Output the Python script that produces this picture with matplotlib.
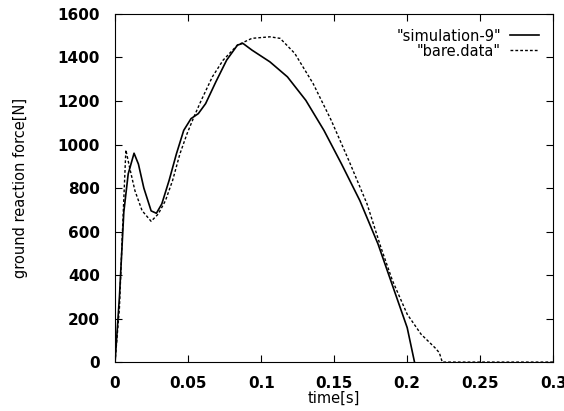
import matplotlib.pyplot as plt

# simulation-9 (solid)
t_sim = [0, 0.003, 0.006, 0.009, 0.013, 0.016, 0.0197, 0.0247, 0.0283, 0.032, 0.037,
         0.042, 0.047, 0.052, 0.057, 0.062, 0.069, 0.0764, 0.0838, 0.0875, 0.0937,
         0.106, 0.118, 0.1306, 0.143, 0.155, 0.1676, 0.18, 0.192, 0.2, 0.205]
f_sim = [0, 300, 690, 865, 960, 910, 800, 695, 684, 727, 835,
         957, 1065, 1119, 1142, 1188, 1288, 1388, 1457, 1465, 1434,
         1380, 1311, 1203, 1065, 911, 742, 543, 312, 158, 0]

# bare.data (dashed)
t_bare = [0, 0.003, 0.005, 0.0074, 0.0099, 0.0136, 0.0185, 0.0247, 0.0296, 0.0345,
          0.0394, 0.0444, 0.0493, 0.054, 0.059, 0.0666, 0.074, 0.0838, 0.0937, 0.106,
          0.113, 0.123, 0.1356, 0.148, 0.16, 0.1725, 0.182, 0.19, 0.2, 0.2095, 0.219,
          0.222, 0.224, 0.3]
f_bare = [0, 250, 590, 975, 896, 788, 696, 647, 681, 742,
          835, 957, 1050, 1127, 1203, 1311, 1388, 1457, 1488, 1495,
          1488, 1419, 1280, 1111, 927, 727, 527, 373, 220, 128, 66,
          43, 0, 0]

plt.rcParams['font.family'] = 'DejaVu Sans'

fig = plt.figure(figsize=(5.64, 4.11), dpi=100)
ax = fig.add_axes([0.204, 0.119, 0.777, 0.847])

ax.plot(t_sim, f_sim, color='black', lw=1.2, label='"simulation-9"')
ax.plot(t_bare, f_bare, color='black', lw=1.0, ls=(0, (2, 1.5)), label='"bare.data"')

ax.set_xlim(0, 0.3)
ax.set_ylim(0, 1600)
ax.set_xticks([0, 0.05, 0.1, 0.15, 0.2, 0.25, 0.3])
ax.set_xticklabels(['0', '0.05', '0.1', '0.15', '0.2', '0.25', '0.3'])
ax.set_yticks(range(0, 1601, 200))
ax.tick_params(direction='in', top=True, right=True, length=5, labelsize=11)
ax.tick_params(axis='x', pad=10)
ax.tick_params(axis='y', pad=11)
for lab in ax.get_xticklabels() + ax.get_yticklabels():
    lab.set_fontweight('semibold')

ax.set_xlabel('time[s]', fontsize=10.5, labelpad=0)
ax.set_ylabel('ground reaction force[N]', fontsize=10.5, labelpad=21)

ax.legend(loc='upper right', frameon=False, markerfirst=False,
          handlelength=2.0, prop={'size': 10.5},
          borderaxespad=0.6, borderpad=0.4, labelspacing=0.0, handletextpad=0.6)

plt.savefig('out.png', dpi=100)
